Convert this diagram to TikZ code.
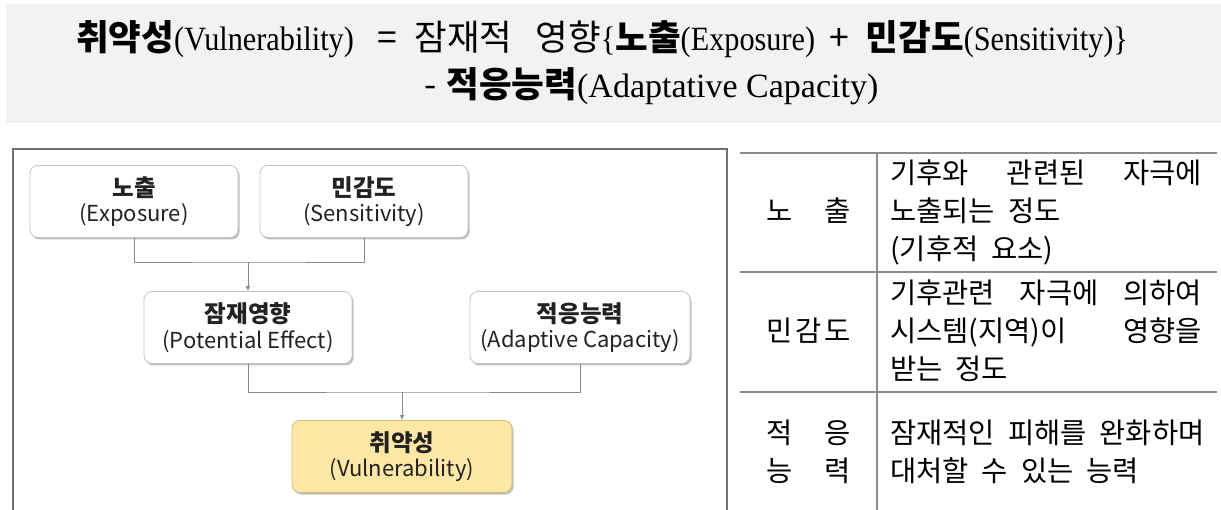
\documentclass[tikz,border=0pt]{standalone}
\usepackage{fontspec}
\usetikzlibrary{shadows,arrows.meta}
\newfontfamily\kr{Noto Sans CJK KR}
\newfontfamily\latA[FakeStretch=0.89]{Liberation Serif}
\newfontfamily\latB{Liberation Serif}
\definecolor{bannerbg}{HTML}{F2F2F2}
\definecolor{frameline}{HTML}{707070}
\definecolor{tableline}{HTML}{8C8C8C}
\definecolor{boxline}{HTML}{C4C4C4}
\definecolor{connline}{HTML}{8A8A8A}
\definecolor{textdark}{HTML}{222222}
\definecolor{vulfill}{HTML}{FCE8A4}
\definecolor{vulline}{HTML}{D6BC6C}
\newcommand\bnKB[1]{{\kr\bfseries\fontsize{35.5}{40}\selectfont #1}}
\newcommand\bnKR[1]{{\kr\fontsize{35.5}{40}\selectfont #1}}
\newcommand\bnLA[1]{{\latA\fontsize{34}{40}\selectfont #1}}
\newcommand\bnLB[1]{{\latB\fontsize{34}{40}\selectfont #1}}
\newcommand\bxK[1]{{\bfseries\fontsize{23.5}{26}\selectfont #1}}
\newcommand\tbk{\kr\fontsize{28.5}{32}\selectfont\spaceskip=13pt plus 40pt\relax}
\begin{document}
\begin{tikzpicture}[x=1pt,y=-1pt,
  box/.style={draw=boxline, line width=0.8pt, rounded corners=8pt, fill=white,
    minimum height=72pt, align=center, text=textdark, inner sep=0pt,
    font=\kr\fontsize{22}{25.5}\selectfont,
    drop shadow={shadow xshift=1.5pt, shadow yshift=-2pt, opacity=0.45, fill=black!55}},
  conn/.style={draw=connline, line width=0.8pt},
  arr/.style={conn, -{Latex[length=5pt,width=4.5pt]}},
  tline/.style={draw=tableline, line width=1.5pt},
  ttext/.style={anchor=base west, inner sep=0pt, text=black, font=\tbk},
  btext/.style={anchor=base west, inner sep=0pt, text=black}]
\useasboundingbox (0,0) rectangle (1221,510);
\fill[white] (0,0) rectangle (1221,510);
% banner
\fill[bannerbg] (6,4) rectangle (1221,123);
\node[btext] (eq1) at (76,51) {\bnKB{취약성}\bnLA{(Vulnerability)}\hspace{24pt}\bnKR{=}\hspace{17pt}\bnKR{잠재적\hspace{23pt}영향}\bnLA{\{}\bnKB{노출}\bnLA{(Exposure)}\hspace{14pt}\bnKR{+}\hspace{17pt}\bnKB{민감도}\bnLA{(Sensitivity)\}}};
\node[btext] (eq2) at (424,98) {\bnKR{-}\hspace{10pt}\bnKB{적응능력}\bnLB{(Adaptative Capacity)}};
% left frame
\draw[frameline, line width=1.5pt] (13,510) -- (13,149) -- (727,149) -- (727,510);
% boxes
\node[box, minimum width=208pt] (ex) at (134,201.5) {\bxK{노출}\\(Exposure)};
\node[box, minimum width=208pt] (se) at (364,201.5) {\bxK{민감도}\\(Sensitivity)};
\node[box, minimum width=208pt] (pe) at (248,327.5) {\bxK{잠재영향}\\(Potential Effect)};
\node[box, minimum width=220pt] (ad) at (580,327.5) {\bxK{적응능력}\\(Adaptive Capacity)};
\node[box, minimum width=220pt, fill=vulfill, draw=vulline] (vu) at (402,456.5) {\bxK{취약성}\\(Vulnerability)};
% connectors
\coordinate (j1) at (pe.north |- 0,262);
\coordinate (j2) at (vu.north |- 0,392);
\draw[conn] (ex.south) |- (j1) -| (se.south);
\draw[arr] (j1) -- (pe.north);
\draw[conn] (pe.south) |- (j2) -| (ad.south);
\draw[arr] (j2) -- (vu.north);
% table
\draw[tline] (740,153) -- (1217,153);
\draw[tline] (740,272) -- (1217,272);
\draw[tline] (740,392) -- (1217,392);
\draw[tline] (877,153) -- (877,510);
\node[ttext] (h1) at (766,222) {\makebox[85pt][s]{노\hfill 출}};
\node[ttext] (h2) at (766,342) {\makebox[85pt][s]{민\hfill 감\hfill 도}};
\node[ttext] (h3a) at (766,443) {\makebox[85pt][s]{적\hfill 응}};
\node[ttext] (h3b) at (766,481) {\makebox[85pt][s]{능\hfill 력}};
\node[ttext] (d1a) at (890,184) {\makebox[312pt][s]{기후와 관련된 자극에}};
\node[ttext] (d1b) at (890,222) {노출되는 정도};
\node[ttext] (d1c) at (890,260) {(기후적 요소)};
\node[ttext] (d2a) at (890,304) {\makebox[312pt][s]{기후관련 자극에 의하여}};
\node[ttext] (d2b) at (890,342) {\makebox[312pt][s]{시스템(지역)이 영향을}};
\node[ttext] (d2c) at (890,380) {받는 정도};
\node[ttext] (d3a) at (890,443) {\makebox[312pt][s]{잠재적인 피해를 완화하며}};
\node[ttext] (d3b) at (890,481) {대처할 수 있는 능력};
\end{tikzpicture}
\end{document}
